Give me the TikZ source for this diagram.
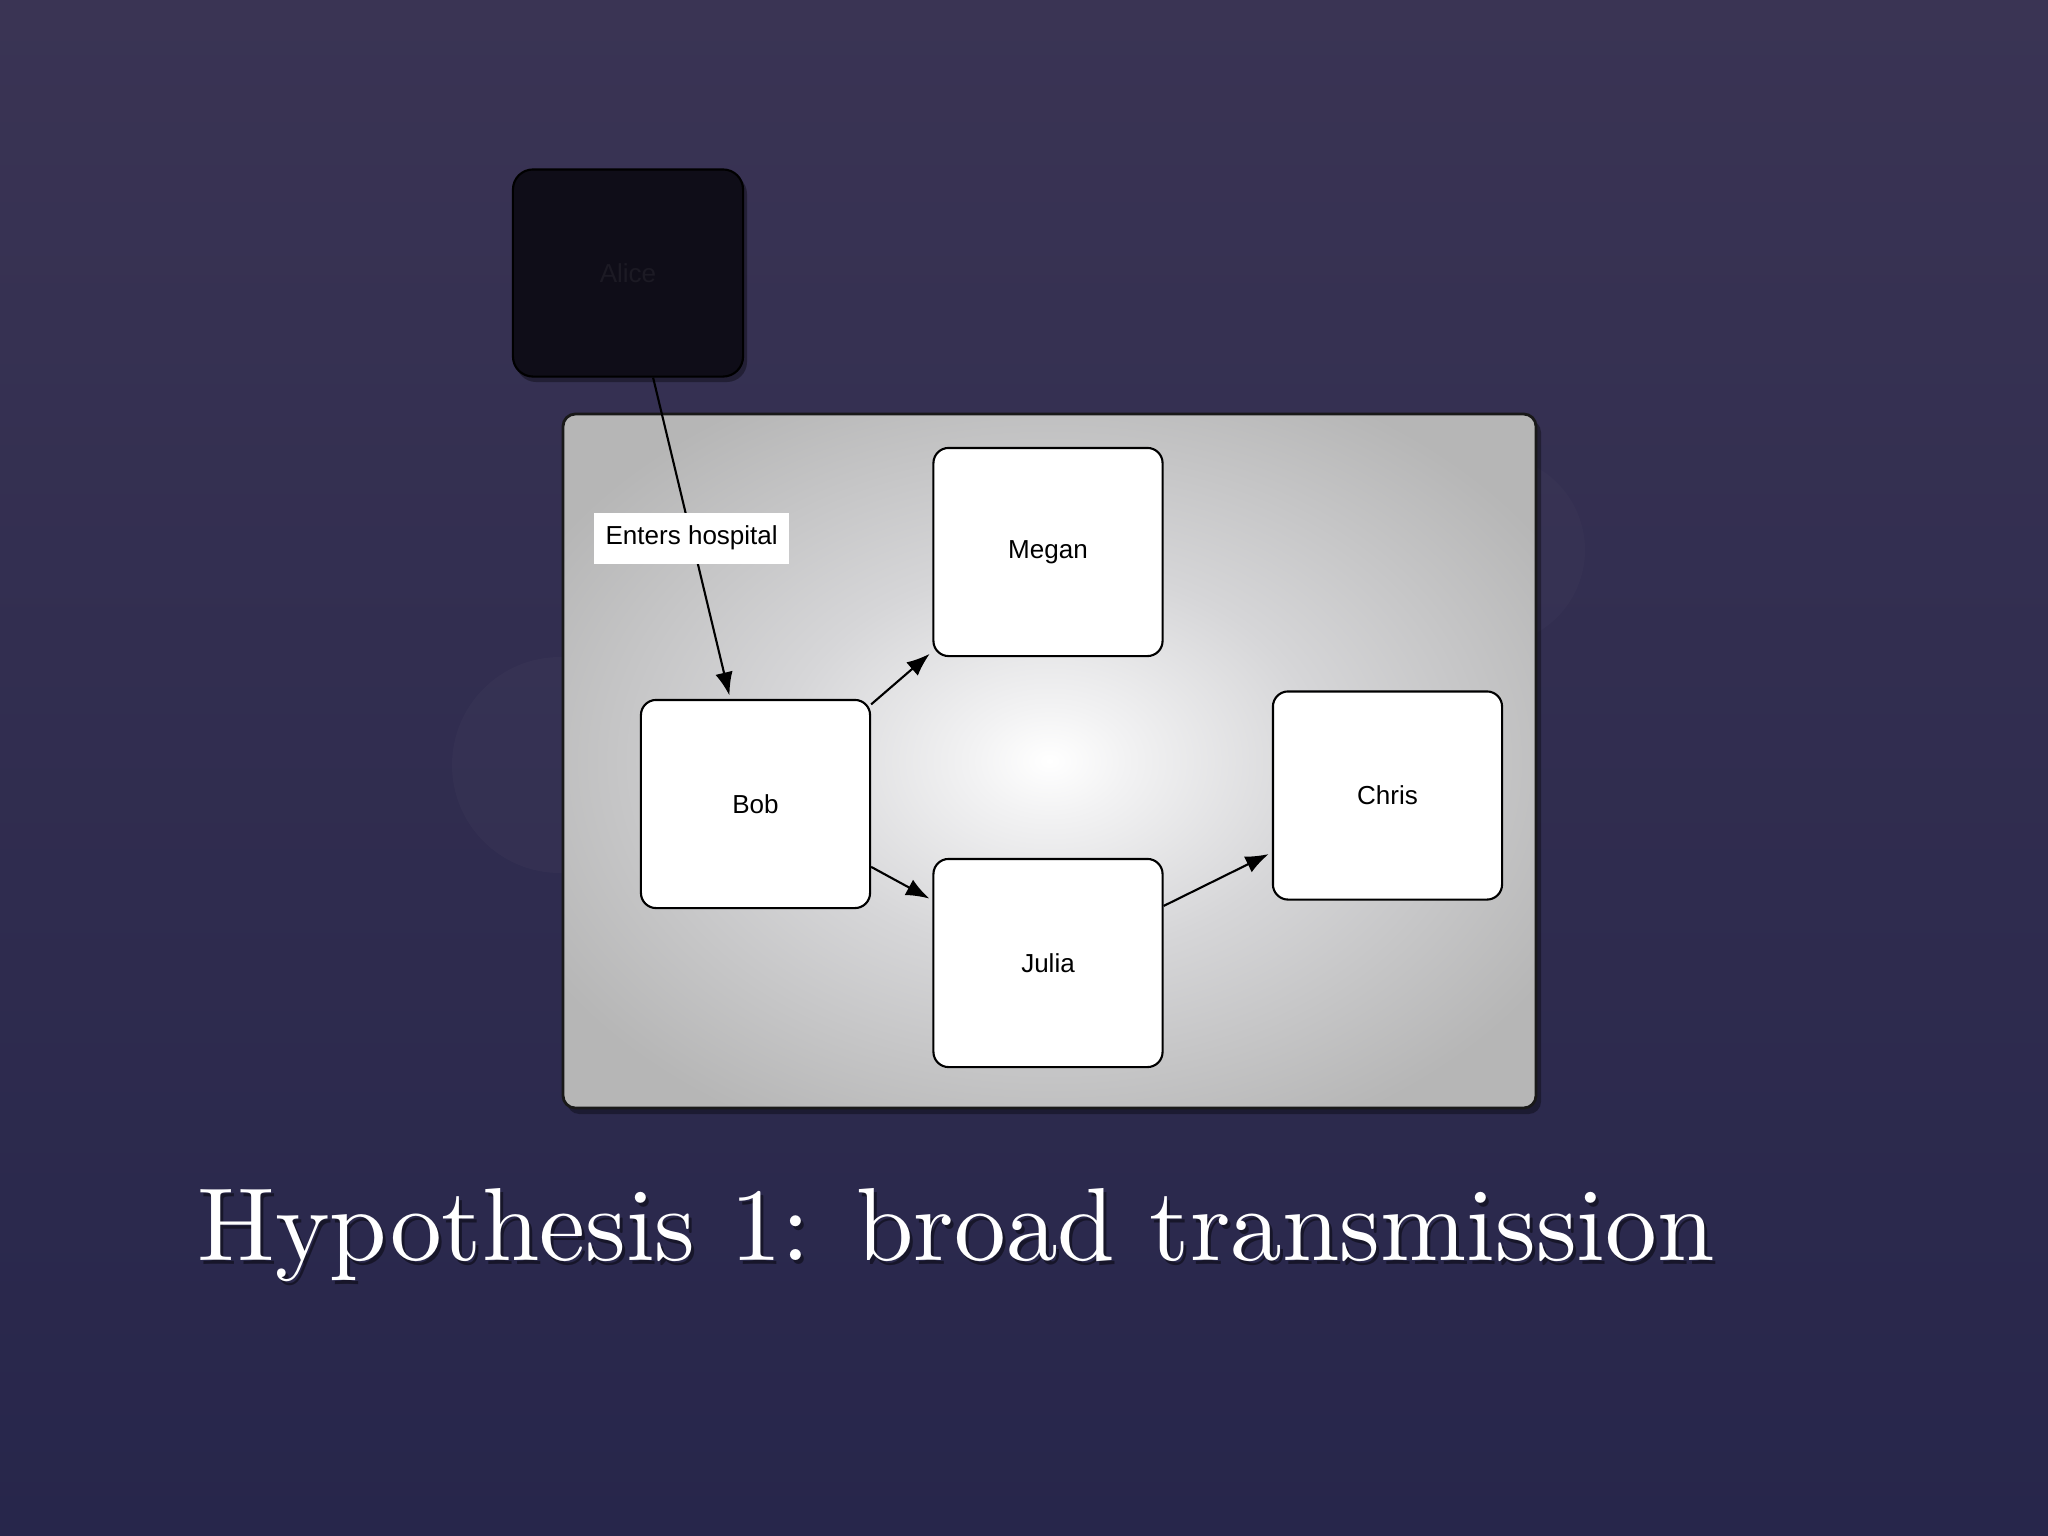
\documentclass[tikz,border=0pt]{standalone}
\usepackage{graphicx}
\usepackage{fontspec}
\newfontfamily\arialf{Liberation Sans}
\usetikzlibrary{arrows.meta}
\definecolor{bgtop}{HTML}{3A3454}
\definecolor{bgbot}{HTML}{27264B}
\definecolor{alicefill}{HTML}{0F0D18}
\definecolor{alicetext}{HTML}{1C1A24}
\definecolor{bokeh}{HTML}{3E3A5A}
\definecolor{pw1}{HTML}{F2F2F3}
\definecolor{pw2}{HTML}{D6D6D8}
\definecolor{pw3}{HTML}{B6B6B6}
\pgfdeclareradialshading{panelshade}{\pgfpoint{0bp}{0bp}}{color(0bp)=(white); color(4bp)=(pw1); color(14bp)=(pw2); color(30bp)=(pw3); color(50bp)=(pw3)}
\begin{document}
\begin{tikzpicture}[x=0.01cm,y=-0.01cm,
  person/.style={draw=black, line width=0.6pt, fill=white, rounded corners=4.3pt,
    minimum width=2.29cm, minimum height=2.08cm, inner sep=0pt,
    font=\arialf\fontsize{7.4}{9}\selectfont},
  link/.style={-{Latex[length=6.6pt,width=5pt]}, line width=0.6pt, black, shorten >=1pt},
  tag/.style={fill=white, inner sep=0pt, minimum width=1.95cm, minimum height=0.51cm,
    font=\arialf\fontsize{7.4}{9}\selectfont},
  titlefont/.style={anchor=base west, inner sep=0pt}
]
\useasboundingbox (0,0) rectangle (2048,1536);
% background
\shade[top color=bgtop, bottom color=bgbot] (0,0) rectangle (2048,1536);
\fill[bokeh, opacity=0.35] (560,765) circle (108);
\fill[bokeh, opacity=0.3] (1490,550) circle (95);
% panel
\fill[black, opacity=0.35, rounded corners=3.5pt] (567,420) rectangle (1541,1114);
\shadedraw[shading=panelshade, draw=black!90, line width=0.8pt, rounded corners=3.5pt] (563,414) rectangle (1536,1108);
% people
\fill[black, opacity=0.35, rounded corners=5.7pt] (516,174) rectangle (747,382);
\node[person, fill=alicefill, text=alicetext, rounded corners=5.7pt, minimum width=2.30cm, minimum height=2.07cm] (alice) at (628,273) {Alice};
\node[person] (megan) at (1048,552) {Megan};
\node[person] (bob) at (755.5,804) {Bob};
\node[person] (julia) at (1048,963) {Julia};
\node[person] (chris) at (1387.5,795.5) {Chris};
% links
\draw[link] (alice) -- node[tag] (lbl) {Enters hospital} (bob);
\draw[link] (bob) -- (megan);
\draw[link] (bob) -- (julia);
\draw[link] (julia) -- (chris);
% title
\node[titlefont, text=black, opacity=0.45] (titleshadow) at (200,1264) {\resizebox{15.16cm}{0.72cm}{Hypothesis 1: broad transmission}};
\node[titlefont, text=white] (title) at (197,1260) {\resizebox{15.16cm}{0.72cm}{Hypothesis 1: broad transmission}};
\end{tikzpicture}
\end{document}
